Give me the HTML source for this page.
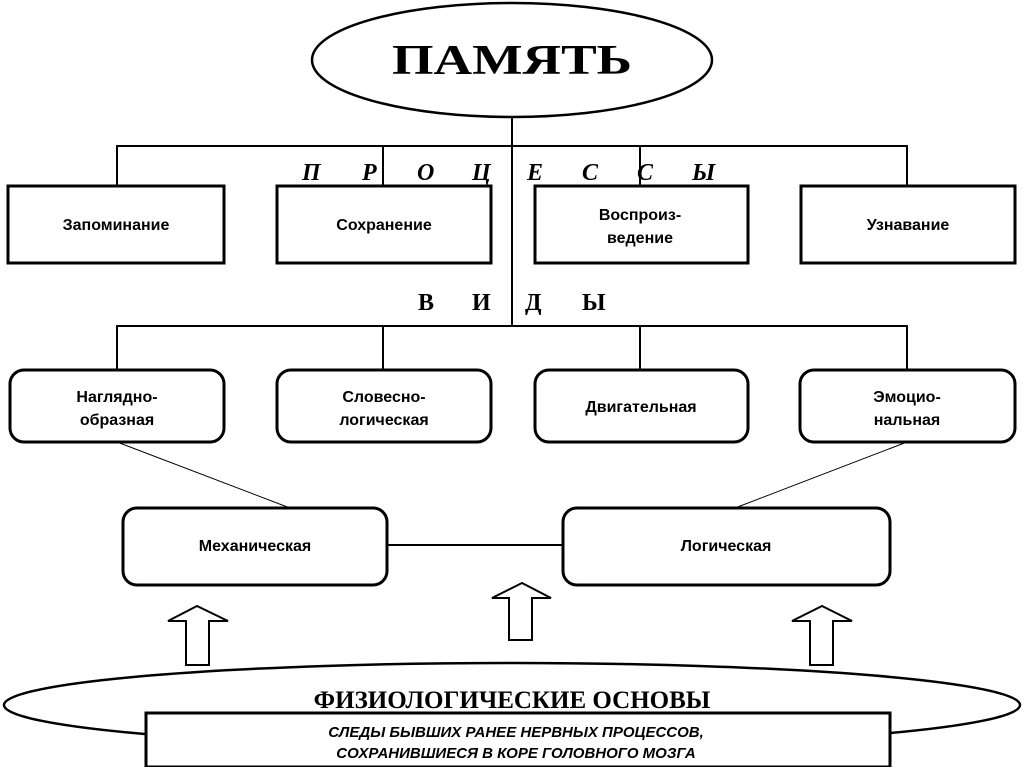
<!DOCTYPE html>
<html><head><meta charset="utf-8"><style>
html,body{margin:0;padding:0;background:#fff;}
</style></head><body>
<svg width="1024" height="767" viewBox="0 0 1024 767" xmlns="http://www.w3.org/2000/svg" font-family="'Liberation Sans', sans-serif">
<rect width="1024" height="767" fill="#fff"/>
<ellipse cx="512" cy="60" rx="200" ry="57" fill="#fff" stroke="#000" stroke-width="2.5"/>
<text x="512" y="74" text-anchor="middle" font-family="'Liberation Serif', serif" font-weight="bold" font-size="42" textLength="240" lengthAdjust="spacingAndGlyphs">ПАМЯТЬ</text>
<g stroke="#000" stroke-width="2" fill="none">
<line x1="512" y1="117" x2="512" y2="325"/>
<polyline points="117,186 117,146 907,146 907,186"/>
<line x1="383" y1="146" x2="383" y2="186"/>
<line x1="640" y1="146" x2="640" y2="186"/>
<polyline points="117,370 117,326 907,326 907,370"/>
<line x1="383" y1="326" x2="383" y2="370"/>
<line x1="640" y1="326" x2="640" y2="370"/>
<line x1="387" y1="545" x2="563" y2="545"/>
<line x1="117" y1="442" x2="290" y2="508" stroke-width="1"/>
<line x1="907" y1="442" x2="735" y2="508" stroke-width="1"/>
</g>
<g stroke="#000" stroke-width="3" fill="#fff">
<rect x="8" y="186" width="216" height="77"/>
<rect x="277" y="186" width="214" height="77"/>
<rect x="535" y="186" width="213" height="77"/>
<rect x="801" y="186" width="214" height="77"/>
<rect x="10" y="370" width="214" height="72" rx="14"/>
<rect x="277" y="370" width="214" height="72" rx="14"/>
<rect x="535" y="370" width="213" height="72" rx="14"/>
<rect x="800" y="370" width="215" height="72" rx="14"/>
<rect x="123" y="508" width="264" height="77" rx="14"/>
<rect x="563" y="508" width="327" height="77" rx="14"/>
</g>
<g font-family="'Liberation Serif', serif" font-style="italic" font-weight="bold" font-size="24">
<text x="302" y="180">П</text><text x="362" y="180">Р</text><text x="417" y="180">О</text><text x="472" y="180">Ц</text><text x="527" y="180">Е</text><text x="582" y="180">С</text><text x="637" y="180">С</text><text x="692" y="180">Ы</text>
</g>
<g font-family="'Liberation Serif', serif" font-weight="bold" font-size="24">
<text x="418" y="310">В</text><text x="472" y="310">И</text><text x="525" y="310">Д</text><text x="582" y="310">Ы</text>
</g>
<g font-weight="bold" font-size="16" text-anchor="middle">
<text x="116" y="230">Запоминание</text>
<text x="384" y="230">Сохранение</text>
<text x="640" y="220">Воспроиз-</text><text x="640" y="243">ведение</text>
<text x="908" y="230">Узнавание</text>
<text x="117" y="402">Наглядно-</text><text x="117" y="425">образная</text>
<text x="384" y="402">Словесно-</text><text x="384" y="425">логическая</text>
<text x="641" y="412">Двигательная</text>
<text x="907" y="402">Эмоцио-</text><text x="907" y="425">нальная</text>
<text x="255" y="551">Механическая</text>
<text x="726" y="551">Логическая</text>
</g>
<g fill="#fff" stroke="#000" stroke-width="2">
<polygon points="186,665 186,621 168,621 197,606 228,621 209,621 209,665"/>
<polygon points="509,640 509,598 492,598 522,583 551,598 532,598 532,640"/>
<polygon points="810,665 810,621 792,621 822,606 852,621 833,621 833,665"/>
</g>
<ellipse cx="512" cy="705" rx="508" ry="42" fill="#fff" stroke="#000" stroke-width="2.5"/>
<text x="512" y="708" text-anchor="middle" font-family="'Liberation Serif', serif" font-weight="bold" font-size="25">ФИЗИОЛОГИЧЕСКИЕ ОСНОВЫ</text>
<rect x="146" y="713" width="744" height="54" fill="#fff" stroke="#000" stroke-width="3"/>
<g font-weight="bold" font-style="italic" font-size="15" text-anchor="middle">
<text x="516" y="737">СЛЕДЫ БЫВШИХ РАНЕЕ НЕРВНЫХ ПРОЦЕССОВ,</text>
<text x="516" y="758">СОХРАНИВШИЕСЯ В КОРЕ ГОЛОВНОГО МОЗГА</text>
</g>
</svg>
</body></html>
